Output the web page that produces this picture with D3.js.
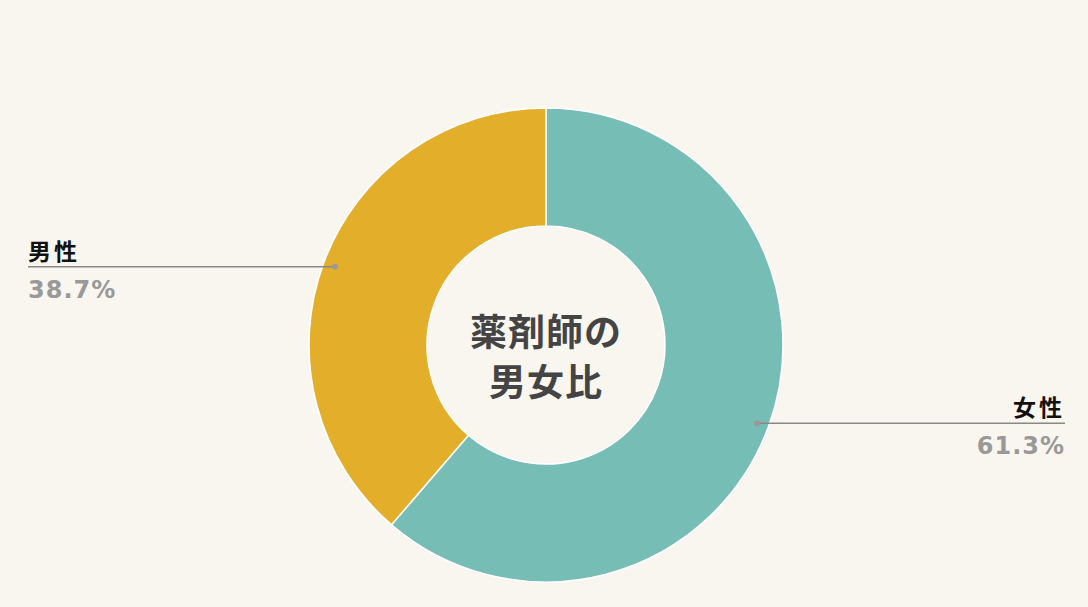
<!DOCTYPE html>
<html>
<head>
<meta charset="utf-8">
<script src="https://cdn.jsdelivr.net/npm/d3@7"></script>
<style>
  html, body { margin: 0; padding: 0; background: #f9f6f0; }
  svg { display: block; }
  text { font-family: "Noto Sans CJK JP", "DejaVu Sans", sans-serif; }
  text.pct { font-family: "DejaVu Sans", "Verdana", sans-serif; }
</style>
</head>
<body>
<script>
// data
const labels = ["女性", "男性"];
const values = [61.3, 38.7];
const colors = ["#76bdb6", "#e3af2b"];
const centerLines = ["薬剤師の", "男女比"];

const width = 1088, height = 607;
const cx = 546, cy = 345;
const outerR = 237, innerR = 119;

const svg = d3.select("body").append("svg")
    .attr("width", width)
    .attr("height", height);

svg.append("rect")
    .attr("width", width)
    .attr("height", height)
    .attr("fill", "#f9f6f0");

const data = labels.map((l, i) => ({ label: l, value: values[i], color: colors[i] }));

const pie = d3.pie()
    .value(d => d.value)
    .sort(null);

const arc = d3.arc()
    .innerRadius(innerR)
    .outerRadius(outerR);

const g = svg.append("g")
    .attr("transform", `translate(${cx},${cy})`);

const arcs = pie(data);

g.selectAll("path")
    .data(arcs)
    .enter()
    .append("path")
    .attr("d", arc)
    .attr("fill", d => d.data.color)
    .attr("stroke", "#ffffff")
    .attr("stroke-width", 1.5);

// center title
g.selectAll("text.center")
    .data(centerLines)
    .enter()
    .append("text")
    .attr("class", "center")
    .attr("text-anchor", "middle")
    .attr("x", 0)
    .attr("y", (d, i) => 1 + i * 50)
    .attr("font-size", "37px")
    .attr("font-weight", "bold")
    .attr("letter-spacing", "1px")
    .attr("fill", "#444444")
    .text(d => d);

// leader lines + labels
const dotR = 225;
arcs.forEach(function(a) {
    const mid = (a.startAngle + a.endAngle) / 2;
    const px = Math.sin(mid) * dotR;
    const py = -Math.cos(mid) * dotR;
    const right = px > 0;
    const endX = right ? (width - 23) - cx : 28 - cx;

    g.append("line")
        .attr("x1", px)
        .attr("y1", py)
        .attr("x2", endX)
        .attr("y2", py)
        .attr("stroke", "#888888")
        .attr("stroke-width", 1.5);

    g.append("circle")
        .attr("cx", px)
        .attr("cy", py)
        .attr("r", 3)
        .attr("fill", "#999999");

    const anchor = right ? "end" : "start";

    g.append("text")
        .attr("x", endX)
        .attr("y", py - 7)
        .attr("text-anchor", anchor)
        .attr("font-size", "23px")
        .attr("font-weight", "bold")
        .attr("letter-spacing", "3px")
        .attr("fill", "#111111")
        .text(a.data.label);

    g.append("text")
        .attr("class", "pct")
        .attr("x", endX)
        .attr("y", py + 31)
        .attr("text-anchor", anchor)
        .attr("font-size", "24px")
        .attr("font-weight", "bold")
        .attr("letter-spacing", "1px")
        .attr("fill", "#999999")
        .text(a.data.value.toFixed(1) + "%");
});
</script>
</body>
</html>
